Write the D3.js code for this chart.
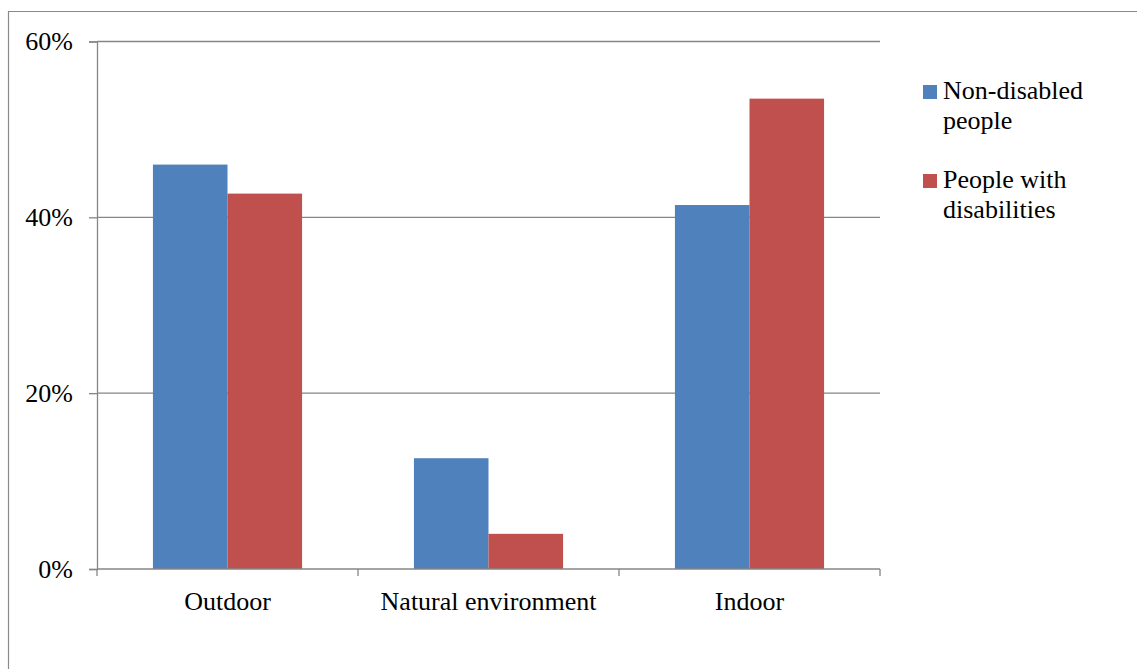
<!DOCTYPE html>
<html>
<head>
<meta charset="utf-8">
<script src="https://cdn.jsdelivr.net/npm/d3@7/dist/d3.min.js"></script>
<style>
  html, body { margin: 0; padding: 0; background: #fff; overflow: hidden; }
  svg { display: block; }
  text { font-family: "Liberation Serif", "Times New Roman", serif; fill: #000; }
</style>
</head>
<body>
<svg id="chart" width="1137" height="669"></svg>
<script>
// Share of activity location by group
const categories = ["Outdoor", "Natural environment", "Indoor"];
const seriesNames = ["Non-disabled people", "People with disabilities"];
const nonDisabled = [0.460, 0.126, 0.414];
const withDisabilities = [0.427, 0.040, 0.535];
const yTicks = [0, 0.2, 0.4, 0.6];
const legendLines = [["Non-disabled", "people"], ["People with", "disabilities"]];
const colors = ["#4F81BD", "#C0504D"];

const seriesValues = [nonDisabled, withDisabilities];
const rows = categories.map((c, i) => ({
  category: c,
  values: seriesNames.map((s, j) => ({ series: s, idx: j, value: seriesValues[j][i] }))
}));

const svg = d3.select("#chart");
const gridColor = "#868686";
const fontSize = 26;

// outer frame: left and top edges (it continues past the right and bottom edges)
svg.append("path")
  .attr("d", "M8.5,669 L8.5,11.5 L1137,11.5")
  .attr("fill", "none").attr("stroke", "#8a8a8a").attr("stroke-width", 1.2);

const plot = { left: 97, right: 880, top: 41.5, bottom: 569 };

const x = d3.scaleBand().domain(categories).range([plot.left, plot.right]).padding(0);
const y = d3.scaleLinear().domain([0, 0.6]).range([plot.bottom, plot.top]);

// gap between clusters is 150% of a bar width
const gapRatio = 1.5;
const barW = x.bandwidth() / (seriesNames.length + gapRatio);
const xs = d3.scaleBand().domain(seriesNames)
  .range([barW * gapRatio / 2, x.bandwidth() - barW * gapRatio / 2]).padding(0);

// horizontal gridlines
svg.append("g").selectAll("line")
  .data(yTicks.filter(t => t > 0))
  .join("line")
  .attr("x1", plot.left).attr("x2", plot.right)
  .attr("y1", d => y(d)).attr("y2", d => y(d))
  .attr("stroke", gridColor).attr("stroke-width", 1.3);

// bars
const groups = svg.append("g").selectAll("g")
  .data(rows)
  .join("g")
  .attr("transform", d => `translate(${x(d.category)},0)`);

groups.selectAll("rect")
  .data(d => d.values)
  .join("rect")
  .attr("x", d => xs(d.series))
  .attr("width", xs.bandwidth())
  .attr("y", d => y(d.value))
  .attr("height", d => y(0) - y(d.value))
  .attr("fill", d => colors[d.idx]);

// y axis
const yAxis = d3.axisLeft(y).tickValues(yTicks)
  .tickFormat(d3.format(".0%"))
  .tickSize(8).tickPadding(16);
const gy = svg.append("g").attr("transform", `translate(${plot.left},0)`).call(yAxis);
gy.select(".domain").attr("stroke", gridColor).attr("stroke-width", 1.3);
gy.selectAll(".tick line").attr("stroke", gridColor).attr("stroke-width", 1.3);
gy.selectAll(".tick text")
  .attr("font-size", fontSize)
  .attr("font-family", "Liberation Serif, serif")
  .attr("fill", "#000")
  .attr("dy", "0.32em");

// x axis with ticks at category boundaries
const gx = svg.append("g").attr("transform", `translate(0,${plot.bottom})`);
gx.append("line")
  .attr("x1", plot.left).attr("x2", plot.right)
  .attr("y1", 0).attr("y2", 0)
  .attr("stroke", gridColor).attr("stroke-width", 1.3);
const boundaries = categories.map(c => x(c)).concat([x(categories[categories.length - 1]) + x.bandwidth()]);
gx.selectAll("line.tick")
  .data(boundaries)
  .join("line")
  .attr("class", "tick")
  .attr("x1", d => d).attr("x2", d => d)
  .attr("y1", 0).attr("y2", 7)
  .attr("stroke", gridColor).attr("stroke-width", 1.3);
gx.selectAll("text")
  .data(categories)
  .join("text")
  .attr("x", d => x(d) + x.bandwidth() / 2)
  .attr("y", 41)
  .attr("text-anchor", "middle")
  .attr("font-size", fontSize)
  .text(d => d);

// legend
const legend = svg.append("g").attr("transform", "translate(923,0)");
const legendTop = [85, 174];
legendLines.forEach((lines, i) => {
  legend.append("rect")
    .attr("x", 0).attr("y", legendTop[i])
    .attr("width", 14).attr("height", 14)
    .attr("fill", colors[i]);
  const t = legend.append("text")
    .attr("x", 20).attr("y", legendTop[i] + 14)
    .attr("font-size", fontSize);
  lines.forEach((ln, k) => {
    t.append("tspan").attr("x", 20).attr("dy", k === 0 ? 0 : 29.5).text(ln);
  });
});
</script>
</body>
</html>
